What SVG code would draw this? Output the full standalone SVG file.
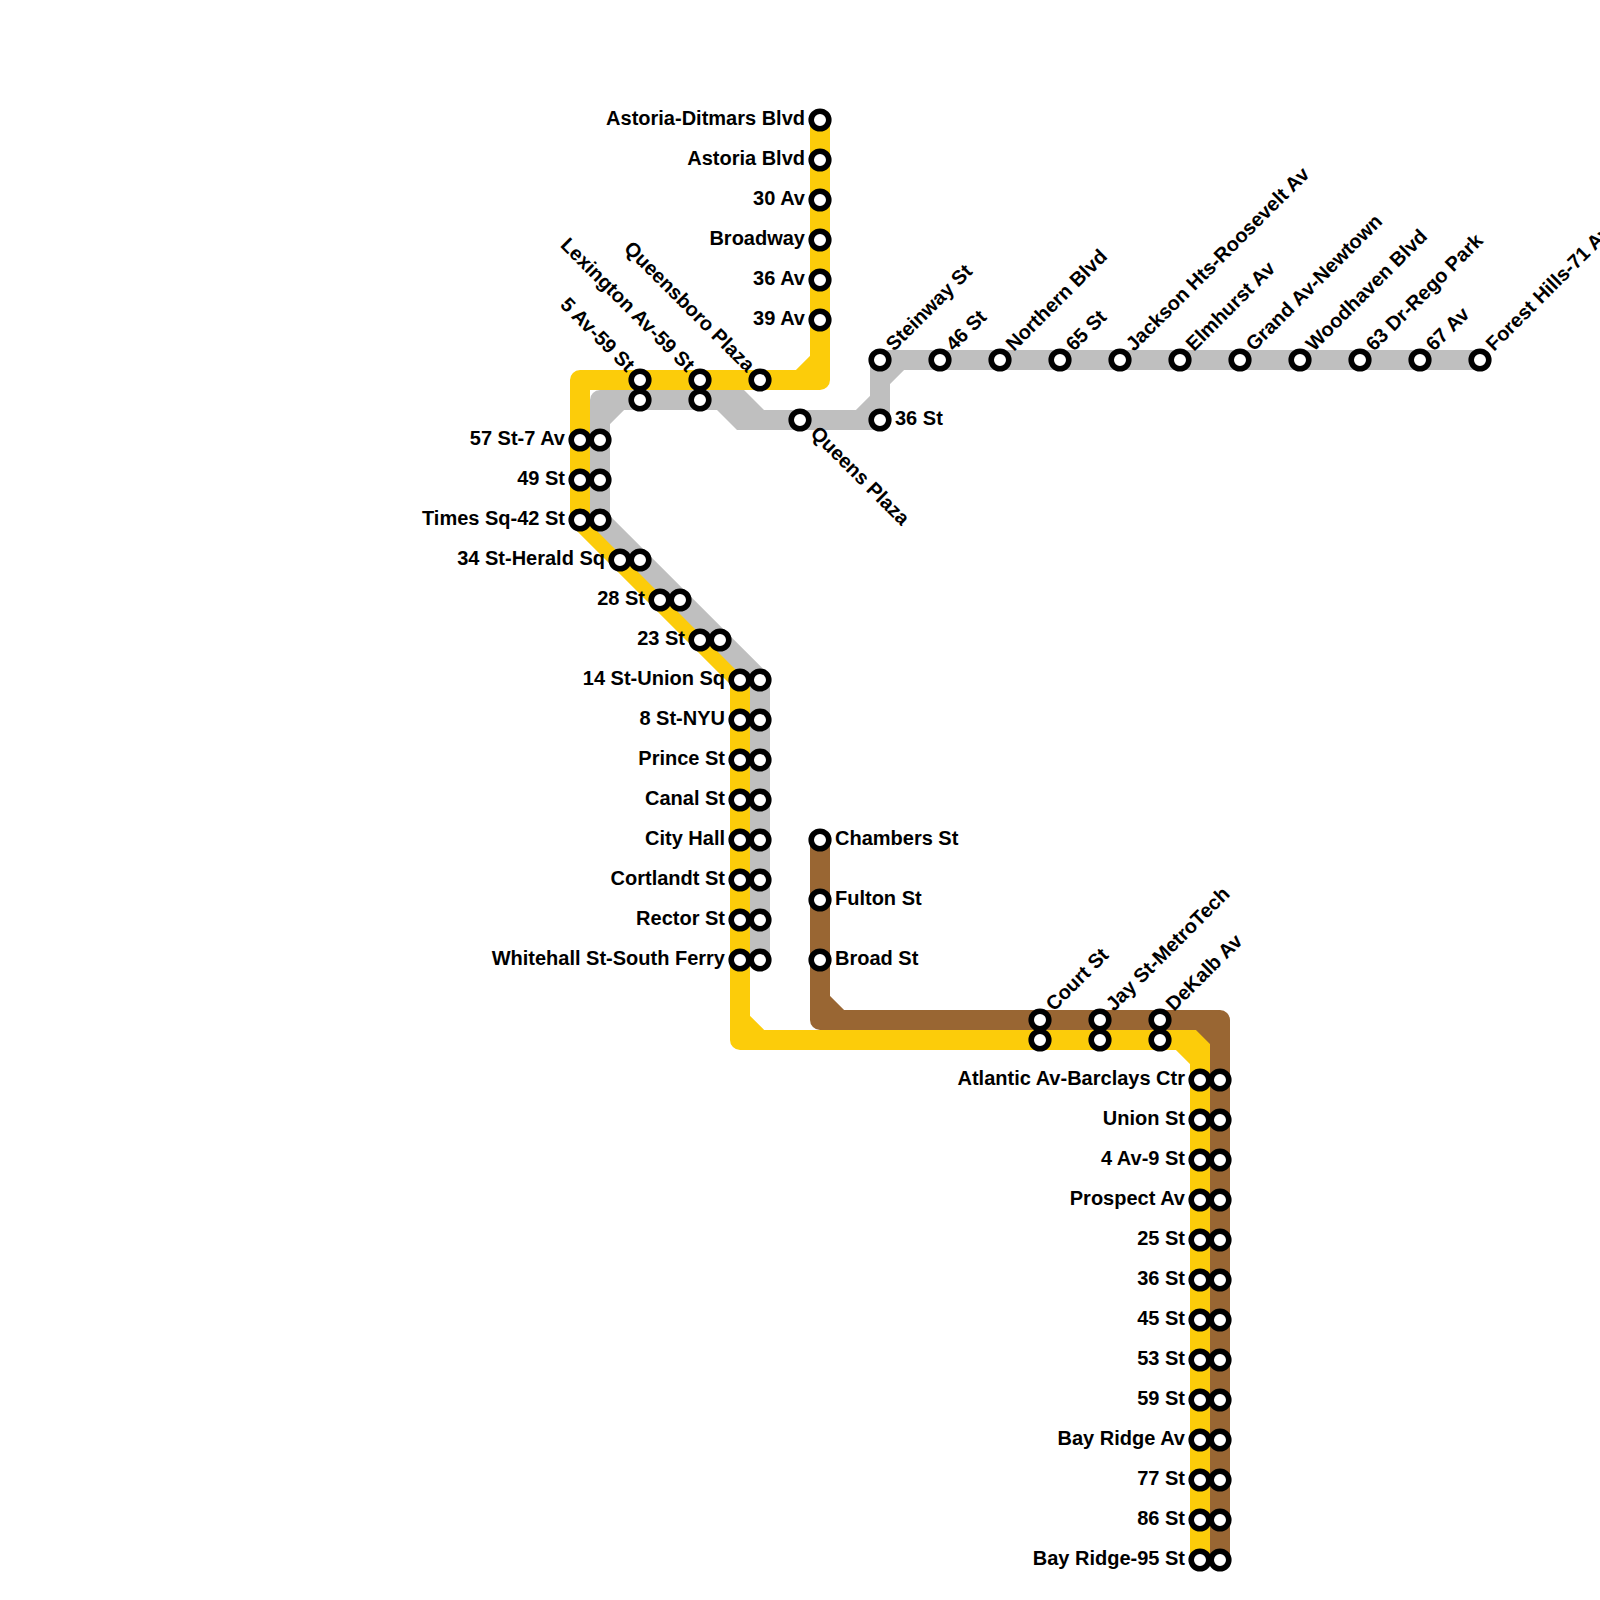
<svg xmlns="http://www.w3.org/2000/svg" width="1600" height="1600" viewBox="0 0 1600 1600">
<style>
text{font-family:"Liberation Sans",Arial,Helvetica,sans-serif;font-weight:700;font-size:20px;fill:#000}
.l{fill:none;stroke-width:20;stroke-linejoin:round;stroke-linecap:butt}
.y{stroke:#fccc0a}.g{stroke:#bfbfbf}.b{stroke:#996633}
circle{fill:#fff;stroke:#000;stroke-width:5.6;r:8.8px}
.e{text-anchor:end}
</style>
<rect width="1600" height="1600" fill="#fff"/>
<g id="connectors">
<path class="l y" d="M820 120V380H580V520L740 680V1040H1200V1060M820 360L800 380M740 1020L760 1040M1180 1040L1200 1060M1200 1040V1560"/>
<path class="l g" d="M1480 360H880V420H760M880 380L900 360M880 400L860 420M720 400H600V520L760 680V960M600 420L620 400"/>
<path d="M716 390H744L764 410V430H737L717 410H716Z" fill="#bfbfbf"/>
<path class="l b" d="M820 840V1020H1220V1560M820 1000L840 1020M1200 1020L1220 1040"/>
</g>
<g id="astoria-ditmars-blvd"><circle cx="820" cy="120"/><text class="e" x="805" y="125">Astoria-Ditmars Blvd</text></g>
<g id="astoria-blvd"><circle cx="820" cy="160"/><text class="e" x="805" y="165">Astoria Blvd</text></g>
<g id="av-30"><circle cx="820" cy="200"/><text class="e" x="805" y="205">30 Av</text></g>
<g id="broadway"><circle cx="820" cy="240"/><text class="e" x="805" y="245">Broadway</text></g>
<g id="av-36"><circle cx="820" cy="280"/><text class="e" x="805" y="285">36 Av</text></g>
<g id="av-39"><circle cx="820" cy="320"/><text class="e" x="805" y="325">39 Av</text></g>
<g id="queensboro-plaza"><circle cx="760" cy="380"/><text class="e" transform="translate(746.5 373) rotate(45)">Queensboro Plaza</text></g>
<g id="lexington-av-59"><circle cx="700" cy="380"/><circle cx="700" cy="400"/><text class="e" transform="translate(686.5 373) rotate(45)">Lexington Av-59 St</text></g>
<g id="av5-59"><circle cx="640" cy="380"/><circle cx="640" cy="400"/><text class="e" transform="translate(626.5 373) rotate(45)">5 Av-59 St</text></g>
<g id="queens-plaza"><circle cx="800" cy="420"/><text transform="translate(809.5 434.5) rotate(45)">Queens Plaza</text></g>
<g id="st-36-q"><circle cx="880" cy="420"/><text x="895" y="425">36 St</text></g>
<g id="steinway-st"><circle cx="880" cy="360"/><text transform="translate(894 352) rotate(-45)">Steinway St</text></g>
<g id="st-46"><circle cx="940" cy="360"/><text transform="translate(954 352) rotate(-45)">46 St</text></g>
<g id="northern-blvd"><circle cx="1000" cy="360"/><text transform="translate(1014 352) rotate(-45)">Northern Blvd</text></g>
<g id="st-65"><circle cx="1060" cy="360"/><text transform="translate(1074 352) rotate(-45)">65 St</text></g>
<g id="jackson-hts"><circle cx="1120" cy="360"/><text transform="translate(1134 352) rotate(-45)">Jackson Hts-Roosevelt Av</text></g>
<g id="elmhurst-av"><circle cx="1180" cy="360"/><text transform="translate(1194 352) rotate(-45)">Elmhurst Av</text></g>
<g id="grand-av"><circle cx="1240" cy="360"/><text transform="translate(1254 352) rotate(-45)">Grand Av-Newtown</text></g>
<g id="woodhaven-blvd"><circle cx="1300" cy="360"/><text transform="translate(1314 352) rotate(-45)">Woodhaven Blvd</text></g>
<g id="dr-63"><circle cx="1360" cy="360"/><text transform="translate(1374 352) rotate(-45)">63 Dr-Rego Park</text></g>
<g id="av-67"><circle cx="1420" cy="360"/><text transform="translate(1434 352) rotate(-45)">67 Av</text></g>
<g id="forest-hills"><circle cx="1480" cy="360"/><text transform="translate(1494 352) rotate(-45)">Forest Hills-71 Av</text></g>
<g id="st-57"><circle cx="580" cy="440"/><circle cx="600" cy="440"/><text class="e" x="565" y="445">57 St-7 Av</text></g>
<g id="st-49"><circle cx="580" cy="480"/><circle cx="600" cy="480"/><text class="e" x="565" y="485">49 St</text></g>
<g id="times-sq"><circle cx="580" cy="520"/><circle cx="600" cy="520"/><text class="e" x="565" y="525">Times Sq-42 St</text></g>
<g id="herald-sq"><circle cx="620" cy="560"/><circle cx="640" cy="560"/><text class="e" x="605" y="565">34 St-Herald Sq</text></g>
<g id="st-28"><circle cx="660" cy="600"/><circle cx="680" cy="600"/><text class="e" x="645" y="605">28 St</text></g>
<g id="st-23"><circle cx="700" cy="640"/><circle cx="720" cy="640"/><text class="e" x="685" y="645">23 St</text></g>
<g id="union-sq"><circle cx="740" cy="680"/><circle cx="760" cy="680"/><text class="e" x="725" y="685">14 St-Union Sq</text></g>
<g id="st-8"><circle cx="740" cy="720"/><circle cx="760" cy="720"/><text class="e" x="725" y="725">8 St-NYU</text></g>
<g id="prince-st"><circle cx="740" cy="760"/><circle cx="760" cy="760"/><text class="e" x="725" y="765">Prince St</text></g>
<g id="canal-st"><circle cx="740" cy="800"/><circle cx="760" cy="800"/><text class="e" x="725" y="805">Canal St</text></g>
<g id="city-hall"><circle cx="740" cy="840"/><circle cx="760" cy="840"/><text class="e" x="725" y="845">City Hall</text></g>
<g id="cortlandt-st"><circle cx="740" cy="880"/><circle cx="760" cy="880"/><text class="e" x="725" y="885">Cortlandt St</text></g>
<g id="rector-st"><circle cx="740" cy="920"/><circle cx="760" cy="920"/><text class="e" x="725" y="925">Rector St</text></g>
<g id="whitehall-st"><circle cx="740" cy="960"/><circle cx="760" cy="960"/><text class="e" x="725" y="965">Whitehall St-South Ferry</text></g>
<g id="chambers-st"><circle cx="820" cy="840"/><text x="835" y="845">Chambers St</text></g>
<g id="fulton-st"><circle cx="820" cy="900"/><text x="835" y="905">Fulton St</text></g>
<g id="broad-st"><circle cx="820" cy="960"/><text x="835" y="965">Broad St</text></g>
<g id="court-st"><circle cx="1040" cy="1020"/><circle cx="1040" cy="1040"/><text transform="translate(1054 1012) rotate(-45)">Court St</text></g>
<g id="jay-st"><circle cx="1100" cy="1020"/><circle cx="1100" cy="1040"/><text transform="translate(1114 1012) rotate(-45)">Jay St-MetroTech</text></g>
<g id="dekalb-av"><circle cx="1160" cy="1020"/><circle cx="1160" cy="1040"/><text transform="translate(1174 1012) rotate(-45)">DeKalb Av</text></g>
<g id="atlantic-av"><circle cx="1200" cy="1080"/><circle cx="1220" cy="1080"/><text class="e" x="1185" y="1085">Atlantic Av-Barclays Ctr</text></g>
<g id="union-st"><circle cx="1200" cy="1120"/><circle cx="1220" cy="1120"/><text class="e" x="1185" y="1125">Union St</text></g>
<g id="av-4-9"><circle cx="1200" cy="1160"/><circle cx="1220" cy="1160"/><text class="e" x="1185" y="1165">4 Av-9 St</text></g>
<g id="prospect-av"><circle cx="1200" cy="1200"/><circle cx="1220" cy="1200"/><text class="e" x="1185" y="1205">Prospect Av</text></g>
<g id="st-25"><circle cx="1200" cy="1240"/><circle cx="1220" cy="1240"/><text class="e" x="1185" y="1245">25 St</text></g>
<g id="st-36-b"><circle cx="1200" cy="1280"/><circle cx="1220" cy="1280"/><text class="e" x="1185" y="1285">36 St</text></g>
<g id="st-45"><circle cx="1200" cy="1320"/><circle cx="1220" cy="1320"/><text class="e" x="1185" y="1325">45 St</text></g>
<g id="st-53"><circle cx="1200" cy="1360"/><circle cx="1220" cy="1360"/><text class="e" x="1185" y="1365">53 St</text></g>
<g id="st-59"><circle cx="1200" cy="1400"/><circle cx="1220" cy="1400"/><text class="e" x="1185" y="1405">59 St</text></g>
<g id="bay-ridge-av"><circle cx="1200" cy="1440"/><circle cx="1220" cy="1440"/><text class="e" x="1185" y="1445">Bay Ridge Av</text></g>
<g id="st-77"><circle cx="1200" cy="1480"/><circle cx="1220" cy="1480"/><text class="e" x="1185" y="1485">77 St</text></g>
<g id="st-86"><circle cx="1200" cy="1520"/><circle cx="1220" cy="1520"/><text class="e" x="1185" y="1525">86 St</text></g>
<g id="bay-ridge-95"><circle cx="1200" cy="1560"/><circle cx="1220" cy="1560"/><text class="e" x="1185" y="1565">Bay Ridge-95 St</text></g>
</svg>
